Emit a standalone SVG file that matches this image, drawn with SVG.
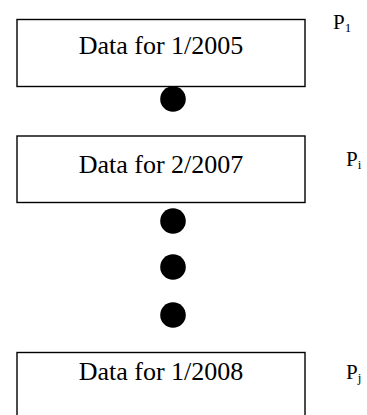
<svg xmlns="http://www.w3.org/2000/svg" width="367" height="415" viewBox="0 0 367 415">
<style>
.box{fill:#fff;stroke:#000;stroke-width:1.4}
.lbl{font-family:"Liberation Serif","Times New Roman",serif;font-size:26px;fill:#000;text-anchor:middle}
.p{font-family:"Liberation Serif","Times New Roman",serif;font-size:21px;fill:#000}
.sub{font-size:13px}
.dot{fill:#000}
</style>
<rect width="367" height="415" fill="#fff"/>
<g id="connectors"></g>
<g id="node1">
<rect class="box" x="17" y="19.5" width="288" height="67"/>
<text class="lbl" x="161" y="54">Data for 1/2005</text>
<text class="p" x="333" y="29">P<tspan class="sub" dy="3">1</tspan></text>
</g>
<g id="node2">
<rect class="box" x="17" y="136" width="288" height="66.5"/>
<text class="lbl" x="161" y="172.5">Data for 2/2007</text>
<text class="p" x="346" y="166">P<tspan class="sub" dy="3">i</tspan></text>
</g>
<g id="node3">
<rect class="box" x="17" y="352.5" width="288" height="70"/>
<text class="lbl" x="161" y="380">Data for 1/2008</text>
<text class="p" x="346" y="379">P<tspan class="sub" dy="3">j</tspan></text>
</g>
<g id="dots">
<circle class="dot" cx="173" cy="99" r="12.8"/>
<circle class="dot" cx="173" cy="221" r="12.8"/>
<circle class="dot" cx="173" cy="267" r="12.8"/>
<circle class="dot" cx="173" cy="315" r="12.8"/>
</g>
</svg>
